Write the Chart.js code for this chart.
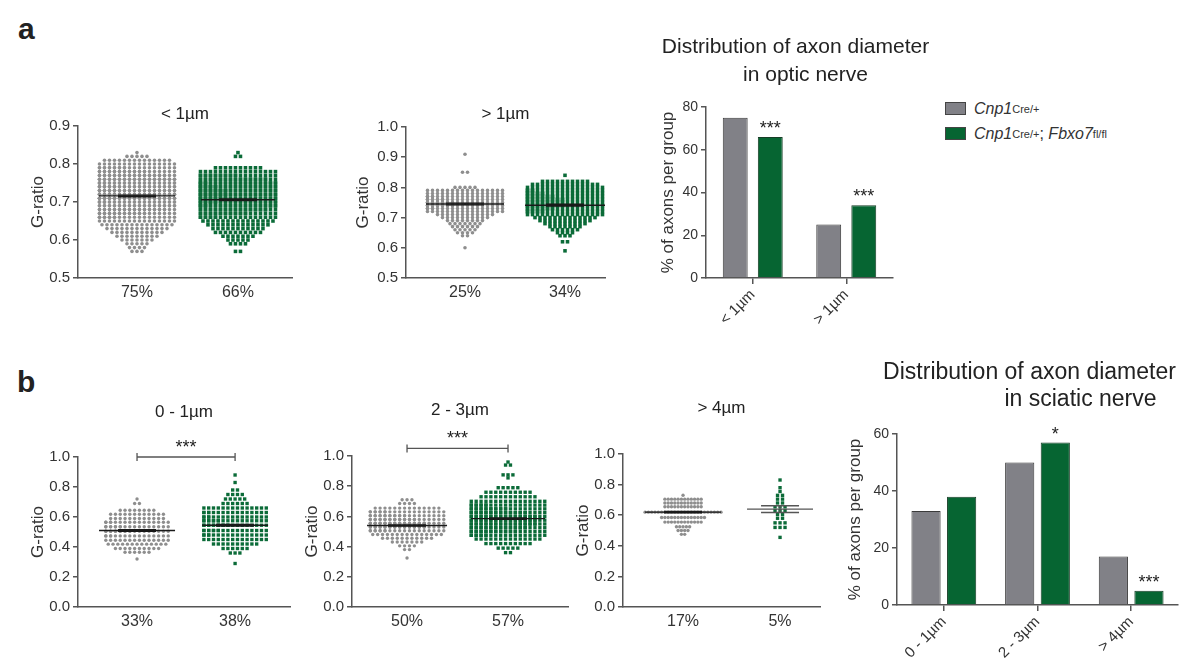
<!DOCTYPE html>
<html lang="en">
<head>
<meta charset="UTF-8">
<title>G-ratio and axon diameter distribution</title>
<script src="https://cdn.jsdelivr.net/npm/chart.js"></script>
<style>
    body { margin: 0; background: #fff; font-family: 'Liberation Sans', Arial, sans-serif; color: #222; }
    #fig { position: relative; width: 1179px; height: 658px; overflow: hidden; }
    #fig canvas { position: absolute; }
    .tag { position: absolute; font-weight: bold; font-size: 30px; line-height: 30px; }
    #legend { position: absolute; left: 945px; top: 96px; font-size: 16px; color: #333; }
    #legend .row { height: 25px; display: flex; align-items: center; white-space: nowrap; }
    #legend .sw { display: inline-block; width: 19px; height: 11px; margin-right: 8px; border: 1px solid #444; }
    #legend sup { font-size: 11px; vertical-align: 6px; }
</style>
</head>
<body>
<div id="fig">
    <div class="tag" style="left:18px; top:14px;">a</div>
    <div class="tag" style="left:17px; top:367px;">b</div>
    <div id="legend">
        <div class="row"><span class="sw" style="background:#818187"></span><i>Cnp1</i><sup>Cre/+</sup></div>
        <div class="row"><span class="sw" style="background:#066532"></span><i>Cnp1</i><sup>Cre/+</sup>;&nbsp;<i>Fbxo7</i><sup>fl/fl</sup></div>
    </div>
</div>

<script>
// ---- data ----
// swarms: G-ratio levels and how many axons sit on each level
const a1Labels = ['75%', '66%'];
const a1CtrlLevels = [0.83, 0.82, 0.81, 0.80, 0.79, 0.78, 0.77, 0.76, 0.75, 0.74, 0.73, 0.72, 0.71, 0.70, 0.69, 0.68, 0.67, 0.66, 0.65, 0.64, 0.63, 0.62, 0.61, 0.60, 0.59, 0.58, 0.57];
const a1CtrlCounts = [1, 5, 14, 16, 22, 26, 30, 32, 34, 36, 36, 36, 36, 34, 32, 30, 26, 20, 16, 15, 13, 11, 9, 7, 5, 4, 3];
const a1KoLevels = [0.83, 0.82, 0.81, 0.80, 0.79, 0.78, 0.77, 0.76, 0.75, 0.74, 0.73, 0.72, 0.71, 0.70, 0.69, 0.68, 0.67, 0.66, 0.65, 0.64, 0.63, 0.62, 0.61, 0.60, 0.59, 0.58, 0.57];
const a1KoCounts = [1, 2, 0, 0, 10, 16, 24, 30, 34, 36, 38, 38, 38, 36, 34, 30, 26, 20, 15, 13, 11, 10, 7, 5, 4, 0, 2];
const a1Means = [0.716, 0.706];
const a1Sems = [0.002, 0.002];

const a2Labels = ['25%', '34%'];
const a2CtrlLevels = [0.91, 0.85, 0.80, 0.79, 0.78, 0.77, 0.76, 0.75, 0.74, 0.73, 0.72, 0.71, 0.70, 0.69, 0.68, 0.67, 0.66, 0.65, 0.64, 0.60];
const a2CtrlCounts = [1, 2, 5, 16, 16, 18, 20, 22, 22, 18, 16, 12, 10, 8, 7, 6, 5, 4, 2, 1];
const a2KoLevels = [0.84, 0.82, 0.81, 0.80, 0.79, 0.78, 0.77, 0.76, 0.75, 0.74, 0.73, 0.72, 0.71, 0.70, 0.69, 0.68, 0.67, 0.66, 0.65, 0.64, 0.62, 0.59];
const a2KoCounts = [1, 10, 14, 16, 18, 20, 22, 24, 24, 24, 22, 20, 16, 13, 11, 9, 7, 6, 4, 3, 2, 1];
const a2Means = [0.745, 0.741];
const a2Sems = [0.003, 0.003];

const b1Labels = ['33%', '38%'];
const b1CtrlLevels = [0.72, 0.69, 0.645, 0.618, 0.59, 0.565, 0.535, 0.505, 0.474, 0.445, 0.419, 0.39, 0.365, 0.32];
const b1CtrlCounts = [1, 2, 8, 12, 12, 16, 18, 20, 16, 14, 13, 10, 6, 1];
const b1KoLevels = [0.88, 0.83, 0.78, 0.75, 0.72, 0.69, 0.66, 0.63, 0.60, 0.575, 0.545, 0.51, 0.48, 0.45, 0.42, 0.39, 0.36, 0.29];
const b1KoCounts = [1, 1, 2, 4, 5, 6, 14, 16, 16, 18, 20, 18, 16, 14, 10, 6, 3, 1];
const b1Means = [0.51, 0.545];
const b1Sems = [0.005, 0.005];
const b1Bracket = 1.0;

const b2Labels = ['50%', '57%'];
const b2CtrlLevels = [0.71, 0.685, 0.655, 0.63, 0.605, 0.58, 0.555, 0.53, 0.505, 0.48, 0.455, 0.43, 0.405, 0.38, 0.325];
const b2CtrlCounts = [3, 4, 14, 20, 24, 26, 28, 28, 20, 15, 11, 7, 4, 2, 1];
const b2KoLevels = [0.96, 0.94, 0.875, 0.855, 0.79, 0.76, 0.73, 0.70, 0.675, 0.65, 0.625, 0.60, 0.575, 0.55, 0.525, 0.50, 0.475, 0.45, 0.42, 0.39, 0.36];
const b2KoCounts = [1, 2, 3, 1, 5, 10, 12, 16, 20, 24, 28, 30, 30, 30, 28, 26, 20, 14, 10, 5, 2];
const b2Means = [0.54, 0.585];
const b2Sems = [0.004, 0.004];
const b2Bracket = 1.05;

const b3Labels = ['17%', '5%'];
const b3CtrlLevels = [0.73, 0.705, 0.68, 0.655, 0.62, 0.585, 0.555, 0.525, 0.50, 0.475];
const b3CtrlCounts = [1, 12, 12, 12, 24, 14, 12, 5, 4, 2];
const b3KoLevels = [0.83, 0.78, 0.755, 0.73, 0.705, 0.68, 0.655, 0.63, 0.605, 0.58, 0.55, 0.52, 0.455];
const b3KoCounts = [1, 1, 1, 2, 2, 2, 3, 3, 2, 2, 3, 3, 1];
const b3Means = [0.62, 0.64];
const b3Sems = [0.004, 0.022];

// bar charts: % of axons per group
const opticCats = ['< 1µm', '> 1µm'];
const opticCtrl = [75, 25];
const opticKo = [66, 34];
const opticStars = ['***', '***'];

const sciaticCats = ['0 - 1µm', '2 - 3µm', '> 4µm'];
const sciaticCtrl = [33, 50, 17];
const sciaticKo = [38, 57, 5];
const sciaticStars = ['', '*', '***'];

const seriesNames = ['Cnp1 Cre/+', 'Cnp1 Cre/+; Fbxo7 fl/fl'];

// ---- style ----
const FONT = "'Liberation Sans', Arial, sans-serif";
const AXIS = '#555';
const TXT = '#333';
const GRAY_PT = '#8e8e8e';
const GREEN_PT = '#0b6b38';
const GRAY_BAR = '#818187';
const GREEN_BAR = '#066532';
Chart.defaults.font.family = FONT;
Chart.defaults.color = TXT;

const fig = document.getElementById('fig');

function makeCanvas(g) {
    const c = document.createElement('canvas');
    c.width = g.W;
    c.height = g.H;
    c.style.left = g.L + 'px';
    c.style.top = g.T + 'px';
    fig.appendChild(c);
    return c;
}

// lay the points of one group out in rows, centred on the category
function swarm(cat, levels, counts, step, cap) {
    const pts = [];
    levels.forEach((y, i) => {
        const n = counts[i];
        const m = Math.min(n, cap);
        for (let k = 0; k < n; k++) {
            const slot = k % cap;
            pts.push({ x: cat + (slot - (m - 1) / 2) * step, y: y });
        }
    });
    return pts;
}

function seg(pts, color, w) {
    return { data: pts, showLine: true, borderColor: color, borderWidth: w, pointRadius: 0, order: 0 };
}

// mean line + SEM bar
function summary(cat, mean, sem, half, capw, color) {
    return [
        seg([{ x: cat - half, y: mean }, { x: cat + half, y: mean }], color, 1.4),
        seg([{ x: cat - capw, y: mean + sem }, { x: cat + capw, y: mean + sem }], color, 1.4),
        seg([{ x: cat - capw, y: mean - sem }, { x: cat + capw, y: mean - sem }], color, 1.4),
        seg([{ x: cat, y: mean - sem }, { x: cat, y: mean + sem }], color, 1.4)
    ];
}

function yAxis(g, o) {
    return {
        min: o.min, max: o.max,
        ticks: { stepSize: o.step, font: { size: o.tick }, color: TXT, padding: 3, callback: o.fmt },
        grid: { display: true, drawOnChartArea: false, drawTicks: true, tickLength: 5, color: AXIS, lineWidth: 1.5 },
        border: { display: true, color: AXIS, width: 1.5 },
        title: { display: true, text: o.title, font: { size: 17 }, color: TXT, padding: { top: 2, bottom: 0 } },
        afterFit: s => { s.width = g.yw; s.paddingTop = 0; s.paddingBottom = 0; }
    };
}

// titles, significance brackets and stars
function decor(d) {
    return {
        id: 'decor',
        afterDatasetsDraw(chart) {
            const { ctx, chartArea: a, scales } = chart;
            ctx.save();
            ctx.fillStyle = '#222';
            ctx.textAlign = 'center';
            ctx.textBaseline = 'middle';
            ctx.font = d.titleSize + 'px ' + FONT;
            const cx = (a.left + a.right) / 2;
            d.title.forEach((t, i) => ctx.fillText(t, cx + (d.titleDx ? d.titleDx[i] : 0), a.top - d.titleGap[i]));

            ctx.textBaseline = 'alphabetic';
            ctx.font = '18px ' + FONT;
            if (d.bracket !== undefined) {
                const y = scales.y.getPixelForValue(d.bracket);
                const x1 = scales.x.getPixelForValue(1), x2 = scales.x.getPixelForValue(2);
                ctx.strokeStyle = '#555';
                ctx.lineWidth = 1.3;
                ctx.beginPath();
                ctx.moveTo(x1, y); ctx.lineTo(x2, y);
                ctx.moveTo(x1, y - 4); ctx.lineTo(x1, y + 4);
                ctx.moveTo(x2, y - 4); ctx.lineTo(x2, y + 4);
                ctx.stroke();
                ctx.fillText('***', (x1 + x2) / 2, y - 4);
            }
            if (d.stars) {
                const meta = chart.getDatasetMeta(1);
                d.stars.forEach((s, i) => {
                    if (!s) return;
                    const el = meta.data[i];
                    ctx.fillText(s, el.x, el.y - 3);
                });
            }
            ctx.restore();
        }
    };
}

function swarmChart(g, s) {
    const cv = makeCanvas(g);
    const areaW = g.W - g.yw - g.pr;
    const unit = areaW / (s.xmax - s.xmin);
    const colors = s.lineColor || ['#1a1a1a', '#1a1a1a'];
    const ds = [];
    [0, 1].forEach(i => ds.push(...summary(i + 1, s.means[i], s.sems[i], s.half[i] / unit, 19 / unit, colors[i])));
    ds.push({ data: swarm(1, s.ctrl[0], s.ctrl[1], s.sp[0] / unit, s.cap[0]), backgroundColor: GRAY_PT,
        pointStyle: 'circle', pointRadius: s.r, borderWidth: 0, order: 2 });
    ds.push({ data: swarm(2, s.ko[0], s.ko[1], s.sp[1] / unit, s.cap[1]), backgroundColor: GREEN_PT,
        pointStyle: 'rect', pointRadius: s.r * 1.4, borderWidth: 0, order: 2 });

    new Chart(cv, {
        type: 'scatter',
        data: { datasets: ds },
        options: {
            responsive: false, animation: false, events: [],
            layout: { padding: { top: g.pt, right: g.pr, bottom: 0, left: 0 } },
            plugins: { legend: { display: false }, tooltip: { enabled: false } },
            scales: {
                x: {
                    type: 'linear', min: s.xmin, max: s.xmax,
                    afterBuildTicks: sc => { sc.ticks = [{ value: 1 }, { value: 2 }]; },
                    ticks: { font: { size: 16 }, color: TXT, padding: 5, maxRotation: 0, autoSkip: false,
                        callback: v => s.labels[v - 1] },
                    grid: { display: true, drawOnChartArea: false, drawTicks: false, color: AXIS },
                    border: { display: true, color: AXIS, width: 1.5 },
                    afterFit: sc => { sc.height = g.xh; sc.paddingLeft = 0; sc.paddingRight = 0; }
                },
                y: yAxis(g, { min: s.ymin, max: s.ymax, step: s.ystep, tick: 15, title: 'G-ratio', fmt: v => v.toFixed(1) })
            }
        },
        plugins: [decor({ title: [s.title], titleGap: [s.gap], titleSize: 17, bracket: s.bracket })]
    });
}

function barChart(g, b) {
    const cv = makeCanvas(g);
    new Chart(cv, {
        type: 'bar',
        data: {
            labels: b.cats,
            datasets: [
                { label: seriesNames[0], data: b.ctrl, backgroundColor: GRAY_BAR, borderColor: '#3b3b3b', borderWidth: 1,
                  barPercentage: b.barPct, categoryPercentage: b.catPct },
                { label: seriesNames[1], data: b.ko, backgroundColor: GREEN_BAR, borderColor: '#173d26', borderWidth: 1,
                  barPercentage: b.barPct, categoryPercentage: b.catPct }
            ]
        },
        options: {
            responsive: false, animation: false, events: [],
            layout: { padding: { top: g.pt, right: g.pr, bottom: 0, left: 0 } },
            plugins: { legend: { display: false }, tooltip: { enabled: false } },
            scales: {
                x: {
                    ticks: { font: { size: 15 }, color: TXT, minRotation: 45, maxRotation: 45, padding: 2, autoSkip: false },
                    grid: { display: true, drawOnChartArea: false, drawTicks: true, tickLength: 6, offset: false, color: AXIS, lineWidth: 1.5 },
                    border: { display: true, color: AXIS, width: 1.5 },
                    afterFit: sc => { sc.height = g.xh; sc.paddingLeft = 0; sc.paddingRight = 0; }
                },
                y: yAxis(g, { min: 0, max: b.ymax, step: 20, tick: 14, title: '% of axons per group', fmt: v => v })
            }
        },
        plugins: [decor({ title: b.title, titleGap: b.gap, titleDx: b.dx, titleSize: b.titleSize, stars: b.stars })]
    });
}

// ---- panel a ----
swarmChart({ L: 26, T: 95, W: 272, H: 213, yw: 52, xh: 30, pt: 31, pr: 6 }, {
    title: '< 1µm', gap: 12, labels: a1Labels, xmin: 0.416, xmax: 2.535, ymin: 0.5, ymax: 0.9, ystep: 0.1,
    ctrl: [a1CtrlLevels, a1CtrlCounts], ko: [a1KoLevels, a1KoCounts], means: a1Means, sems: a1Sems,
    half: [38, 37], sp: [5, 5], cap: [16, 16], r: 1.8
});
swarmChart({ L: 351, T: 95, W: 260, H: 213, yw: 55, xh: 30, pt: 32, pr: 6 }, {
    title: '> 1µm', gap: 13, labels: a2Labels, xmin: 0.41, xmax: 2.40, ymin: 0.5, ymax: 1.0, ystep: 0.1,
    ctrl: [a2CtrlLevels, a2CtrlCounts], ko: [a2KoLevels, a2KoCounts], means: a2Means, sems: a2Sems,
    half: [39, 40], sp: [5, 5], cap: [16, 16], r: 1.8
});
barChart({ L: 656, T: 25, W: 284, H: 313, yw: 50, xh: 60, pt: 82, pr: 47 }, {
    cats: opticCats, ctrl: opticCtrl, ko: opticKo, stars: opticStars, ymax: 80,
    barPct: 0.71, catPct: 0.75,
    title: ['Distribution of axon diameter', 'in optic nerve'], gap: [60, 32], dx: [-4, 6], titleSize: 21
});

// ---- panel b ----
swarmChart({ L: 26, T: 395, W: 270, H: 242, yw: 52, xh: 30, pt: 62, pr: 6 }, {
    title: '0 - 1µm', gap: 45, labels: b1Labels, xmin: 0.398, xmax: 2.56, ymin: 0, ymax: 1.0, ystep: 0.2,
    ctrl: [b1CtrlLevels, b1CtrlCounts], ko: [b1KoLevels, b1KoCounts], means: b1Means, sems: b1Sems,
    half: [38, 33], sp: [4.8, 4.8], cap: [14, 14], r: 1.7, bracket: b1Bracket
});
swarmChart({ L: 300, T: 395, W: 274, H: 242, yw: 52, xh: 30, pt: 61, pr: 6 }, {
    title: '2 - 3µm', gap: 46, labels: b2Labels, xmin: 0.455, xmax: 2.594, ymin: 0, ymax: 1.0, ystep: 0.2,
    ctrl: [b2CtrlLevels, b2CtrlCounts], ko: [b2KoLevels, b2KoCounts], means: b2Means, sems: b2Sems,
    half: [40, 37], sp: [4.9, 4.9], cap: [16, 16], r: 1.7, bracket: b2Bracket
});
swarmChart({ L: 571, T: 395, W: 255, H: 242, yw: 52, xh: 30, pt: 59, pr: 6 }, {
    title: '> 4µm', gap: 46, labels: b3Labels, xmin: 0.381, xmax: 2.412, ymin: 0, ymax: 1.0, ystep: 0.2,
    ctrl: [b3CtrlLevels, b3CtrlCounts], ko: [b3KoLevels, b3KoCounts], means: b3Means, sems: b3Sems,
    half: [38, 33], sp: [3.3, 5], cap: [24, 4], r: 1.7, lineColor: ['#1a1a1a', '#555']
});
barChart({ L: 843, T: 355, W: 336, H: 305, yw: 54, xh: 55, pt: 79, pr: 1 }, {
    cats: sciaticCats, ctrl: sciaticCtrl, ko: sciaticKo, stars: sciaticStars, ymax: 60,
    barPct: 0.82, catPct: 0.76,
    title: ['Distribution of axon diameter', 'in sciatic nerve'], gap: [61, 34], dx: [-8, 43], titleSize: 23
});
</script>
</body>
</html>
